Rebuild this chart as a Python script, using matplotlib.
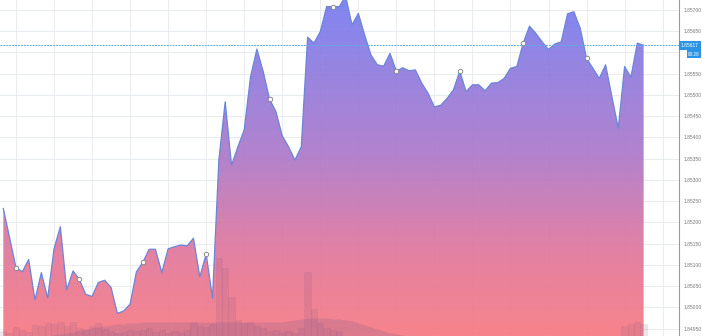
import numpy as np
import matplotlib
matplotlib.use('Agg')
import matplotlib.pyplot as plt
from matplotlib.colors import LinearSegmentedColormap

# Price series (one point per bar)
prices = [
    1.85233, 1.85164, 1.85094, 1.85084, 1.85113, 1.85018, 1.85082, 1.85022, 1.85138, 1.85190,
    1.85042, 1.85086, 1.85066, 1.85031, 1.85026, 1.85059, 1.85064, 1.85047, 1.84986, 1.84992,
    1.85008, 1.85084, 1.85106, 1.85137, 1.85137, 1.85082, 1.85138, 1.85143, 1.85147, 1.85145,
    1.85163, 1.85072, 1.85126, 1.85022, 1.85347, 1.85484, 1.85335, 1.85378, 1.85418, 1.85543,
    1.85608, 1.85555, 1.85490, 1.85461, 1.85404, 1.85378, 1.85347, 1.85378, 1.85636, 1.85622,
    1.85649, 1.85708, 1.85708, 1.85708, 1.85733, 1.85665, 1.85692, 1.85641, 1.85594, 1.85571,
    1.85568, 1.85598, 1.85556, 1.85564, 1.85557, 1.85559, 1.85528, 1.85504, 1.85472, 1.85476,
    1.85492, 1.85512, 1.85556, 1.85508, 1.85524, 1.85524, 1.85510, 1.85528, 1.85529, 1.85539,
    1.85563, 1.85567, 1.85622, 1.85662, 1.85645, 1.85625, 1.85607, 1.85620, 1.85625, 1.85691,
    1.85696, 1.85657, 1.85586, 1.85563, 1.85539, 1.85571, 1.85496, 1.85422, 1.85567, 1.85542,
    1.85622, 1.85617,
]

# Volume per bar (lots) and its smoothed average
volumes = [
    5, 3, 9, 6, 4, 11, 10, 13, 12, 14, 10, 14, 8, 6, 10, 13, 7, 5, 3, 4,
    6, 5, 6, 8, 4, 6, 3, 5, 4, 6, 14, 10, 9, 12, 78, 68, 39, 16, 13, 14,
    10, 8, 5, 6, 4, 5, 3, 8, 64, 27, 13, 8, 6, 5, 0, 0, 0, 0, 0, 0,
    0, 0, 0, 0, 0, 0, 0, 0, 0, 0, 0, 0, 0, 0, 0, 0, 0, 0, 0, 0,
    0, 0, 0, 0, 0, 0, 0, 0, 0, 0, 0, 0, 0, 0, 0, 0, 0, 0, 10, 12,
    14, 12,
]
volume_avg = [
    0, 0, 0, 0, 0, 0, 0, 0, 1, 2, 3, 4, 6, 7, 8, 9, 10, 11, 12, 12,
    13, 13, 14, 14, 14, 14, 14, 14, 14, 14, 14, 14, 14, 14, 14, 14, 14, 14, 14, 14,
    14, 14, 14, 14, 14, 15, 16, 17, 18, 18, 18, 18, 17, 17, 16, 15, 13, 11, 9, 7,
    5, 3, 2, 1, 0, 0, 0, 0, 0, 0, 0, 0, 0, 0, 0, 0, 0, 0, 0, 0,
    0, 0, 0, 0, 0, 0, 0, 0, 0, 0, 0, 0, 0, 0, 0, 0, 0, 0, 0, 0,
    0, 0,
]

price_ticks = [1.84950 + 0.0005 * k for k in range(16)]
last_price = 1.85617
last_time = '00:28'

plt.rcParams['font.family'] = ['Liberation Sans', 'DejaVu Sans']

W, H = 702, 336
fig = plt.figure(figsize=(W / 100, H / 100), dpi=100)
ax = fig.add_axes([0, 0, 679 / W, 1])

x = np.arange(len(prices))
xlim = (-0.52, 106.58)
ylim = (1.849329, 1.857235)

# gradient area
poly = ax.fill_between(x, prices, ylim[0], color='none', lw=0)
cmap = LinearSegmentedColormap.from_list(
    'grad', [(0, '#7a80f0'), (0.45, '#ad7ccc'), (0.75, '#e27a9e'), (1, '#f77d86')])
grad = np.linspace(0, 1, 256).reshape(-1, 1)
img = ax.imshow(grad, cmap=cmap, aspect='auto', extent=[xlim[0], xlim[1], ylim[0], ylim[1]],
                origin='upper', alpha=0.95, zorder=1)
img.set_clip_path(poly.get_paths()[0], transform=ax.transData)
ax.plot(x, prices, color='#6b86d6', lw=0.9, zorder=3)

# markers every 10 bars
ax.plot(x[2::10], np.array(prices)[2::10], 'o', ms=3.2, mfc='white', mec='#8a8a8a', mew=0.7, zorder=4)

# last price line
ax.axhline(last_price, color='#5aaee8', lw=0.7, ls=(0, (2, 1)), zorder=3)

ax.set_xlim(*xlim)
ax.set_ylim(*ylim)

# volume
vax = ax.twinx()
vax.set_ylim(0, 336)
vax.set_xlim(*xlim)
vax.bar(x, volumes, width=1.0, color='#8e5a86', alpha=0.16, edgecolor='#8e5a86', lw=0.4, zorder=2)
vax.fill_between(x, volume_avg, 0, color='#7b5a92', alpha=0.22, lw=0, zorder=2)
vax.axis('off')

# grid and price axis (after twinx, which moves ticks left)
ax.set_axisbelow(True)
ax.set_xticks(np.arange(2, 106, 6))
ax.set_yticks(price_ticks)
ax.grid(True, color='#e8ebf0', lw=0.7)
ax.tick_params(axis='x', length=0, labelbottom=False)
ax.yaxis.tick_right()
ax.tick_params(axis='y', length=0, pad=3, labelsize=3.6, labelcolor='#7a7a7a',
               left=False, labelleft=False, right=False, labelright=True)
# the 1.85600 label sits under the price tag, so it is left blank
ax.set_yticklabels(['' if abs(t - 1.856) < 1e-6 else f'{t:.5f}' for t in price_ticks])
for s in ['left', 'top', 'bottom']:
    ax.spines[s].set_visible(False)
ax.spines['right'].set_color('#9a9a9a')
ax.spines['right'].set_linewidth(0.8)

# price tag
fig.text(681 / W, 1 - 45.3 / H, f'{last_price:.5f}', ha='left', va='center', fontsize=3.6,
         color='white', bbox=dict(boxstyle='square,pad=0.35', fc='#2b94e6', ec='none'))
fig.text(688 / W, 1 - 54.3 / H, last_time, ha='left', va='center', fontsize=3.4,
         color='white', bbox=dict(boxstyle='square,pad=0.3', fc='#2b94e6', ec='none'))

fig.savefig('out.png', dpi=100)
